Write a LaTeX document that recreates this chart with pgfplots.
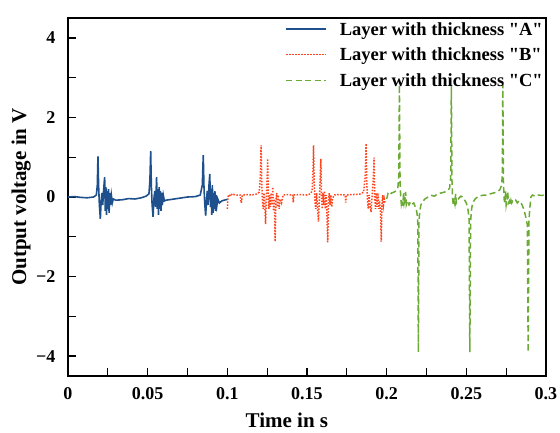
\documentclass[border=0pt]{standalone}
\usepackage{pgfplots}
\pgfplotsset{compat=1.18}
\usepackage{fontspec}
\setmainfont{Liberation Serif}
\newfontfamily\qfont{Liberation Serif}
\definecolor{layerA}{RGB}{29,80,140}
\definecolor{layerB}{RGB}{255,69,30}
\definecolor{layerC}{RGB}{107,170,52}
\newcommand{\q}{{\qfont"}}
\begin{document}
\begin{tikzpicture}
  \useasboundingbox (-68pt,-57pt) rectangle (492pt,376pt);
  \begin{axis}[
    scale only axis,
    width=478pt, height=358pt,
    xmin=0, xmax=0.3, ymin=-4.5, ymax=4.5,
    xtick={0,0.05,0.1,0.15,0.2,0.25,0.3},
    xticklabels={0,0.05,0.1,0.15,0.2,0.25,0.3},
    minor xtick={0.025,0.075,0.125,0.175,0.225,0.275},
    ytick={-4,-2,0,2,4},
    yticklabels={−4,−2,0,2,4},
    minor ytick={-3,-1,1,3},
    tick pos=left, tick align=inside,
    major tick length=8pt, minor tick length=8pt,
    every tick/.style={black, line width=1.3pt},
    axis line style={line width=1.3pt},
    tick label style={font=\fontsize{18}{18}\selectfont\bfseries},
    xticklabel style={yshift=-8pt},
    yticklabel style={xshift=-9pt},
    xlabel={Time in s},
    ylabel={Output voltage in V},
    every axis x label/.style={at={(axis description cs:0.458,-0.123)}, anchor=center,
      font=\fontsize{21}{21}\selectfont\bfseries},
    every axis y label/.style={at={(axis description cs:-0.098,0.5)}, anchor=center, rotate=90,
      font=\fontsize{21}{21}\selectfont\bfseries},
    legend style={draw=none, fill=none, at={(rel axis cs:1,1)}, anchor=north east,
      yshift=0pt, xshift=2pt,
      font=\fontsize{18.5}{18.5}\selectfont\bfseries, row sep=7.5pt, column sep=11pt},
    legend cell align=left,
    legend image code/.code={\draw[#1] (0pt,0.5pt) -- (40pt,0.5pt);},
  ]
    % layer A
    \addplot[layerA, line width=1.6pt] coordinates {
      (0.000,0.00) (0.004,0.01) (0.008,-0.01) (0.012,-0.02) (0.016,0.00) (0.0178,0.05)
      (0.0184,0.3) (0.0188,1.02) (0.0192,0.3) (0.0197,-0.2) (0.0203,-0.55) (0.0208,-0.1)
      (0.0213,0.1) (0.0218,-0.2) (0.0224,0.2) (0.0230,0.5) (0.0234,-0.35) (0.0238,0.25)
      (0.0242,-0.45) (0.0246,0.15) (0.0250,-0.3) (0.0254,0.2) (0.0258,-0.4) (0.0262,0.1)
      (0.0266,-0.2) (0.0272,0.05) (0.0278,-0.15) (0.0284,-0.05) (0.030,-0.08) (0.034,-0.07)
      (0.038,-0.04) (0.042,-0.05) (0.046,-0.02) (0.049,0.02) (0.0508,0.08) (0.0514,0.4)
      (0.0519,1.15) (0.0523,0.3) (0.0528,-0.2) (0.0534,-0.5) (0.0539,-0.05) (0.0545,0.15)
      (0.0550,-0.25) (0.0556,0.5) (0.0560,-0.3) (0.0564,0.2) (0.0568,-0.45) (0.0572,0.25)
      (0.0576,-0.3) (0.0580,0.15) (0.0584,-0.35) (0.0588,0.1) (0.0592,-0.2) (0.0598,0.05)
      (0.0605,-0.1) (0.0615,-0.08) (0.065,-0.06) (0.070,-0.03) (0.075,0.0) (0.080,0.01)
      (0.083,0.05) (0.0843,0.3) (0.0849,1.05) (0.0853,0.3) (0.0858,-0.15) (0.0864,-0.47)
      (0.0869,-0.1) (0.0874,0.15) (0.0879,-0.2) (0.0885,0.3) (0.0890,0.58) (0.0894,-0.25)
      (0.0898,0.2) (0.0902,-0.45) (0.0906,0.3) (0.0910,-0.4) (0.0914,0.1) (0.0918,-0.3)
      (0.0922,0.15) (0.0926,-0.35) (0.0930,0.05) (0.0935,-0.2) (0.0940,-0.05) (0.095,-0.15)
      (0.0965,-0.1) (0.098,-0.08) (0.100,-0.06)};
    \addlegendentry{Layer with thickness \q A\q}
    % layer B
    \addplot[layerB, line width=1.5pt, dash pattern=on 1.5pt off 1.5pt] coordinates {
      (0.1000,-0.30) (0.1004,0.00) (0.1010,0.06) (0.1020,0.02) (0.1030,0.08) (0.1050,0.05)
      (0.1080,0.05) (0.1088,-0.15) (0.1094,0.05) (0.1120,0.06) (0.1150,0.05) (0.1180,0.07)
      (0.1200,0.12) (0.1207,0.5) (0.1212,1.30) (0.1216,0.4) (0.1220,-0.1) (0.1225,-0.3)
      (0.1230,0.1) (0.1235,-0.2) (0.1240,-0.68) (0.1245,0.0) (0.1250,0.5) (0.1253,0.96)
      (0.1257,0.0) (0.1261,-0.3) (0.1265,0.05) (0.1270,-0.25) (0.1275,0.1) (0.1280,-0.2)
      (0.1285,0.25) (0.1290,-0.35) (0.1295,-0.05) (0.1300,-1.12) (0.1305,-0.1) (0.1310,0.1)
      (0.1315,-0.25) (0.1320,0.05) (0.1325,-0.3) (0.1330,-0.05) (0.1340,-0.15) (0.1350,0.05)
      (0.1380,0.06) (0.1410,0.05) (0.1414,-0.14) (0.1418,0.05) (0.1450,0.06) (0.1500,0.05)
      (0.1520,0.08) (0.1532,0.15) (0.1537,0.6) (0.1541,1.30) (0.1545,0.4) (0.1550,-0.1)
      (0.1555,-0.3) (0.1560,0.1) (0.1565,-0.2) (0.1572,-0.62) (0.1578,0.0) (0.1583,0.5)
      (0.1587,0.96) (0.1591,0.0) (0.1595,-0.3) (0.1600,0.1) (0.1605,-0.2) (0.1610,0.15)
      (0.1615,-0.3) (0.1620,0.05) (0.1625,-0.4) (0.1630,-1.14) (0.1635,-0.1) (0.1640,0.1)
      (0.1645,-0.2) (0.1650,0.05) (0.1655,-0.25) (0.1660,-0.05) (0.1670,0.05) (0.1700,0.06)
      (0.1740,0.05) (0.1743,-0.14) (0.1747,0.05) (0.1780,0.06) (0.1830,0.07) (0.1855,0.12)
      (0.1865,0.5) (0.1871,1.34) (0.1875,0.4) (0.1880,-0.1) (0.1885,-0.3) (0.1890,0.05)
      (0.1895,-0.2) (0.1902,-0.38) (0.1908,0.0) (0.1915,0.4) (0.1921,0.99) (0.1925,0.0)
      (0.1930,-0.3) (0.1935,0.1) (0.1940,-0.25) (0.1945,0.1) (0.1950,-0.3) (0.1955,-0.1)
      (0.1962,-0.4) (0.1966,-1.12) (0.1970,-0.2) (0.1975,0.05) (0.1980,-0.2) (0.1985,-0.05)
      (0.1990,-0.15)};
    \addlegendentry{Layer with thickness \q B\q}
    % layer C
    \addplot[layerC, line width=1.5pt, dash pattern=on 6pt off 3.5pt] coordinates {
      (0.2000,-0.05) (0.2008,0.08) (0.2018,0.04) (0.2030,0.10) (0.2045,0.12) (0.2060,0.16)
      (0.2070,0.22) (0.2076,0.5) (0.2080,2.82) (0.2084,0.4) (0.2088,0.0) (0.2092,-0.18)
      (0.2097,-0.08) (0.2102,-0.22) (0.2106,0.12) (0.2110,-0.15) (0.2115,-0.05) (0.2119,0.13)
      (0.2123,-0.2) (0.2130,-0.12) (0.2140,-0.2) (0.2150,-0.12) (0.2160,-0.18) (0.2170,-0.15)
      (0.2180,-0.25) (0.2188,-0.35) (0.2195,-0.55) (0.2199,-3.90) (0.2203,-0.6) (0.2208,-0.35)
      (0.2215,-0.2) (0.2225,-0.12) (0.2240,-0.05) (0.2260,0.0) (0.2280,0.04) (0.2300,0.02)
      (0.2320,0.08) (0.2340,0.1) (0.2360,0.12) (0.2380,0.15) (0.2395,0.22) (0.2402,0.5)
      (0.2406,2.82) (0.2410,0.4) (0.2414,-0.05) (0.2418,-0.2) (0.2423,-0.1) (0.2428,-0.18)
      (0.2433,0.08) (0.2437,-0.15) (0.2445,-0.08) (0.2455,-0.02) (0.2465,0.02) (0.2475,0.0)
      (0.2485,-0.05) (0.2500,-0.15) (0.2510,-0.3) (0.2517,-0.55) (0.2522,-3.90) (0.2527,-0.6)
      (0.2533,-0.3) (0.2540,-0.15) (0.2555,-0.05) (0.2570,0.0) (0.2590,0.03) (0.2610,0.05)
      (0.2630,0.04) (0.2650,0.08) (0.2670,0.1) (0.2690,0.12) (0.2710,0.18) (0.2722,0.3)
      (0.2726,0.6) (0.2729,2.82) (0.2733,0.4) (0.2737,-0.05) (0.2742,-0.15) (0.2746,0.15)
      (0.2750,-0.2) (0.2755,-0.08) (0.2760,0.14) (0.2764,-0.15) (0.2770,-0.1) (0.2775,-0.18)
      (0.2780,-0.08) (0.2785,-0.15) (0.2790,-0.1) (0.2800,-0.12) (0.2810,-0.08) (0.2820,-0.15)
      (0.2830,-0.1) (0.2840,-0.12) (0.2850,-0.2) (0.2860,-0.3) (0.2870,-0.45) (0.2883,-0.7)
      (0.2888,-3.90) (0.2893,-0.6) (0.2898,-0.3) (0.2905,0.0) (0.2915,0.05) (0.2930,0.02)
      (0.2950,0.05) (0.2970,0.04) (0.3000,0.05)};
    \addlegendentry{Layer with thickness \q C\q}
  \end{axis}
\end{tikzpicture}
\end{document}
